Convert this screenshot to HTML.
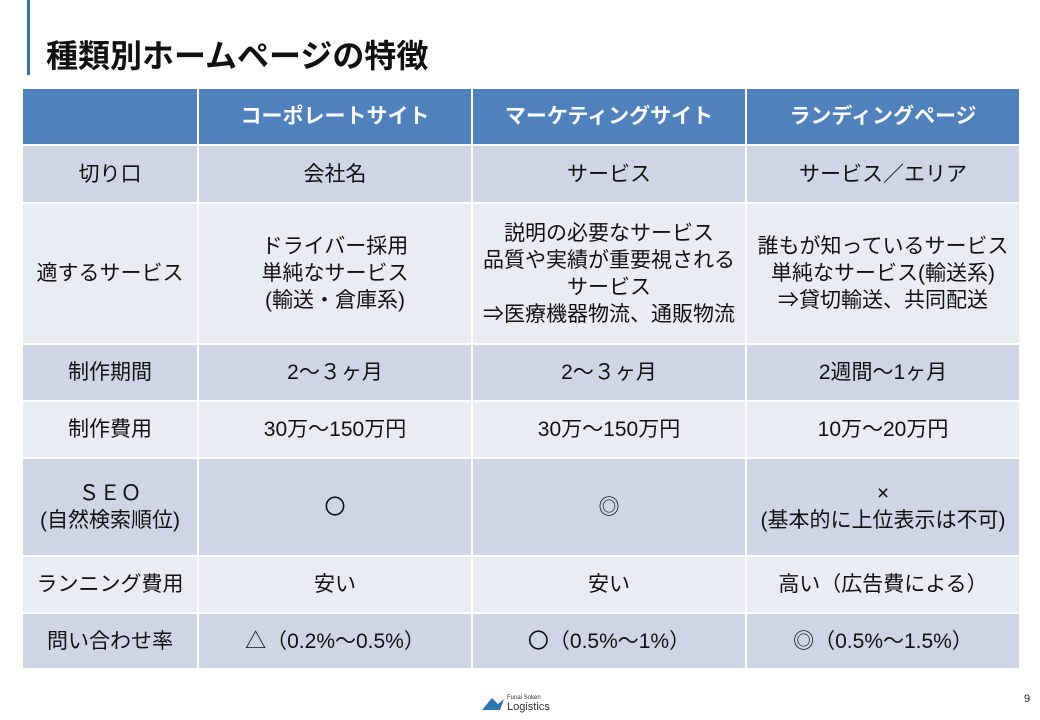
<!DOCTYPE html>
<html><head><meta charset="utf-8"><style>
body{margin:0;width:1040px;height:720px;background:#fff;position:relative;overflow:hidden;font-family:"Liberation Sans","Noto Sans CJK JP",sans-serif;}
.bar{position:absolute;left:27px;top:0;width:3px;height:75px;background:#2e75b6;}
.title{position:absolute;left:46px;top:36px;font-size:32px;font-weight:bold;color:#111;line-height:40px;}
table{position:absolute;left:21px;top:87px;border-collapse:collapse;}
td{border:2px solid #fff;text-align:center;vertical-align:middle;font-size:21px;color:#111;line-height:27px;padding:0;white-space:nowrap;}
tr.h td{background:#4f81bd;color:#fff;font-weight:bold;font-size:21px;}
tr.d td{background:#cfd5e5;}
tr.l td{background:#e9ecf3;}
.num{position:absolute;left:1024px;top:693px;font-size:11px;color:#222;}
.logo{position:absolute;left:480px;top:690px;}
</style></head><body>
<div class="bar"></div>
<div class="title">種類別ホームページの特徴</div>
<table>
<tr class="h" style="height:57px"><td style="width:174px"></td><td style="width:272px">コーポレートサイト</td><td style="width:272px">マーケティングサイト</td><td style="width:272px">ランディングページ</td></tr>
<tr class="d" style="height:58px"><td>切り口</td><td>会社名</td><td>サービス</td><td>サービス／エリア</td></tr>
<tr class="l" style="height:141px"><td>適するサービス</td><td>ドライバー採用<br>単純なサービス<br>(輸送・倉庫系)</td><td>説明の必要なサービス<br>品質や実績が重要視される<br>サービス<br>⇒医療機器物流、通販物流</td><td>誰もが知っているサービス<br>単純なサービス(輸送系)<br>⇒貸切輸送、共同配送</td></tr>
<tr class="d" style="height:57px"><td>制作期間</td><td>2～３ヶ月</td><td>2～３ヶ月</td><td>2週間～1ヶ月</td></tr>
<tr class="l" style="height:57px"><td>制作費用</td><td>30万～150万円</td><td>30万～150万円</td><td>10万～20万円</td></tr>
<tr class="d" style="height:98px"><td>ＳＥＯ<br>(自然検索順位)</td><td>〇</td><td>◎</td><td>×<br>(基本的に上位表示は不可)</td></tr>
<tr class="l" style="height:57px"><td>ランニング費用</td><td>安い</td><td>安い</td><td>高い（広告費による）</td></tr>
<tr class="d" style="height:56px"><td>問い合わせ率</td><td>△（0.2%～0.5%）</td><td>〇（0.5%～1%）</td><td>◎（0.5%～1.5%）</td></tr>
</table>
<div class="logo"><svg width="80" height="24"><path d="M2 20 L12 8 L18 14 L24 9 L20 20 Z" fill="#2e75b6"/><text x="27" y="9" font-size="6" fill="#333" font-family="Liberation Sans">Funai Soken</text><text x="27" y="20" font-size="11" fill="#333" font-family="Liberation Sans">Logistics</text></svg></div>
<div class="num">9</div>
</body></html>
